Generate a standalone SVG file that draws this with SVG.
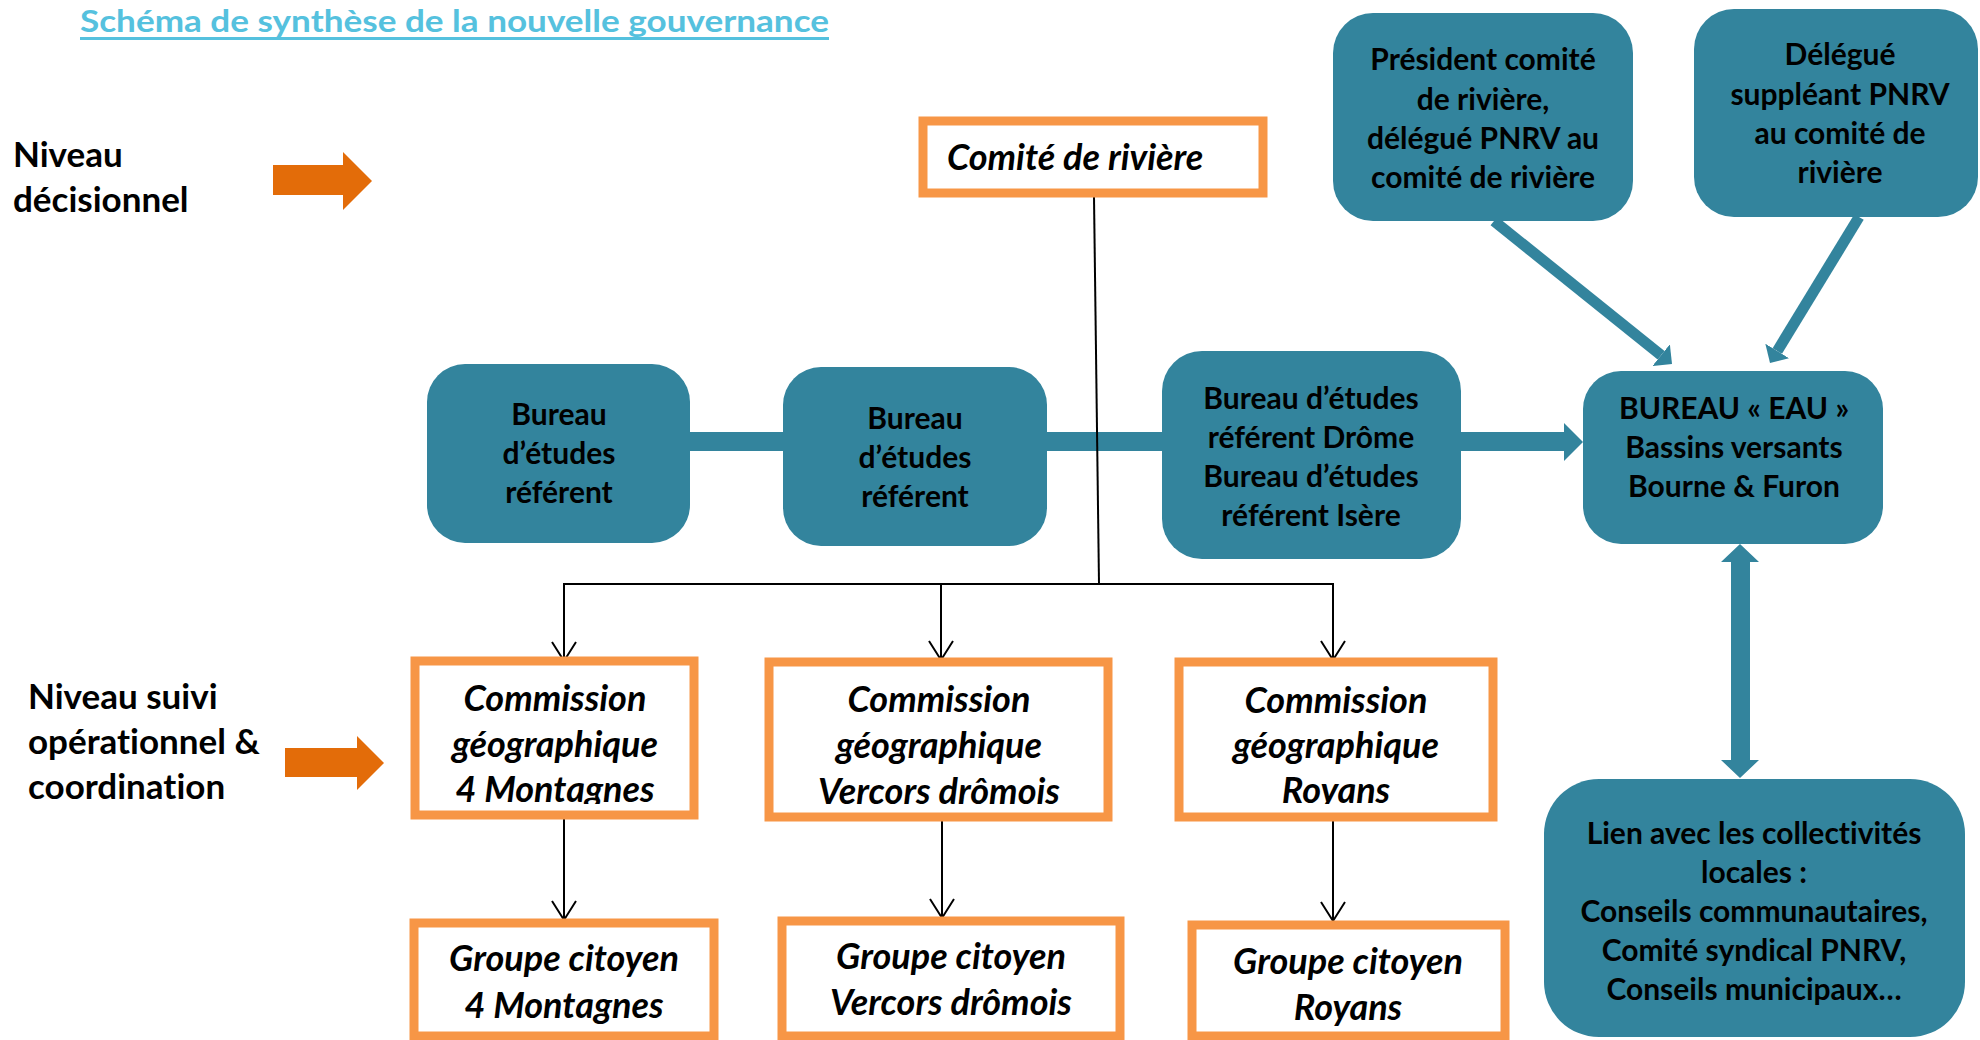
<svg xmlns="http://www.w3.org/2000/svg" width="1980" height="1040" viewBox="0 0 1980 1040">
<style>
text{font-variant-ligatures:none}
.tb{fill:#33849D}
.ob{fill:#FFFFFF;stroke:#F79646;stroke-width:9}
.t{font-family:Lato,"Open Sans","Liberation Sans",sans-serif;font-weight:700;font-size:30px;fill:#000;text-anchor:middle}
.i{font-family:Lato,"Open Sans","Liberation Sans",sans-serif;font-weight:700;font-style:italic;font-size:36px;fill:#000;text-anchor:middle}
.l{font-family:Lato,"Open Sans","Liberation Sans",sans-serif;font-weight:700;font-size:35px;fill:#000}
.thin{stroke:#000;stroke-width:2;fill:none}
.oa{fill:#E36C09}
</style>
<defs>
<marker id="v" markerUnits="userSpaceOnUse" markerWidth="22" markerHeight="26" viewBox="0 0 22 26" refX="20" refY="13" orient="auto">
<path d="M1,1 L20,13 L1,25" fill="none" stroke="#000" stroke-width="2"/>
</marker>
<marker id="tk" markerUnits="userSpaceOnUse" markerWidth="14" markerHeight="28" viewBox="0 0 14 28" refX="0" refY="14" orient="auto">
<path d="M0,0 L14,14 L0,28 z" fill="#33849D"/>
</marker>
<clipPath id="cl1"><rect x="420" y="760" width="270" height="44"/></clipPath>
<clipPath id="cl3"><rect x="1183" y="760" width="306" height="44"/></clipPath>
</defs>

<g id="title">
<text x="80" y="32" style="font-family:Lato,'Open Sans','Liberation Sans',sans-serif;font-weight:700;font-size:31px;fill:#55C1DE" textLength="749" lengthAdjust="spacingAndGlyphs">Schéma de synthèse de la nouvelle gouvernance</text>
<rect x="80" y="37" width="749" height="3" fill="#55C1DE"/>
</g>

<g id="niveau-decisionnel">
<text class="l" x="13" y="167">Niveau</text>
<text class="l" x="13" y="212">décisionnel</text>
<polygon class="oa" points="273,165 343,165 343,152 372,181 343,210 343,195 273,195"/>
</g>

<g id="niveau-suivi">
<text class="l" x="28" y="709">Niveau suivi</text>
<text class="l" x="28" y="754">opérationnel &amp;</text>
<text class="l" x="28" y="799">coordination</text>
<polygon class="oa" points="285,748 357,748 357,736 384,763 357,790 357,777 285,777"/>
</g>

<g id="connectors">
<rect x="690" y="432" width="93" height="19" fill="#33849D"/>
<rect x="1047" y="432" width="115" height="19" fill="#33849D"/>
<polygon class="tb" points="1461,432 1564,432 1564,423 1583,442 1564,461 1564,451 1461,451"/>
<line x1="1494" y1="221" x2="1661.1" y2="355.2" stroke="#33849D" stroke-width="11" marker-end="url(#tk)"/>
<line x1="1859" y1="217" x2="1777.3" y2="351" stroke="#33849D" stroke-width="11" marker-end="url(#tk)"/>
<polygon class="tb" points="1740,544 1759,562 1750,562 1750,760 1759,760 1740,778 1721,760 1731,760 1731,562 1721,562"/>
<line class="thin" x1="1094" y1="197" x2="1099" y2="584"/>
<line class="thin" x1="563" y1="584" x2="1334" y2="584"/>
<line class="thin" x1="564" y1="584" x2="564" y2="661" marker-end="url(#v)"/>
<line class="thin" x1="941" y1="584" x2="941" y2="660" marker-end="url(#v)"/>
<line class="thin" x1="1333" y1="584" x2="1333" y2="660" marker-end="url(#v)"/>
<line class="thin" x1="564" y1="819" x2="564" y2="920" marker-end="url(#v)"/>
<line class="thin" x1="942" y1="821" x2="942" y2="918" marker-end="url(#v)"/>
<line class="thin" x1="1333" y1="821" x2="1333" y2="921" marker-end="url(#v)"/>
</g>

<g id="comite">
<rect class="ob" x="923" y="121" width="340" height="72"/>
<text class="i" x="947" y="170" style="text-anchor:start">Comité de rivière</text>
</g>

<g id="president">
<rect class="tb" x="1333" y="13" width="300" height="208" rx="40"/>
<text class="t" x="1483" y="70">Président comité</text>
<text class="t" x="1483" y="110">de rivière,</text>
<text class="t" x="1483" y="149">délégué PNRV au</text>
<text class="t" x="1483" y="188">comité de rivière</text>
</g>

<g id="delegue">
<rect class="tb" x="1694" y="9" width="284" height="208" rx="40"/>
<text class="t" x="1840" y="65">Délégué</text>
<text class="t" x="1840" y="105">suppléant PNRV</text>
<text class="t" x="1840" y="144">au comité de</text>
<text class="t" x="1840" y="183">rivière</text>
</g>

<g id="bureau1">
<rect class="tb" x="427" y="364" width="263" height="179" rx="38"/>
<text class="t" x="559" y="425">Bureau</text>
<text class="t" x="559" y="464">d’études</text>
<text class="t" x="559" y="503">référent</text>
</g>

<g id="bureau2">
<rect class="tb" x="783" y="367" width="264" height="179" rx="38"/>
<text class="t" x="915" y="429">Bureau</text>
<text class="t" x="915" y="468">d’études</text>
<text class="t" x="915" y="507">référent</text>
</g>

<g id="bureau3">
<rect class="tb" x="1162" y="351" width="299" height="208" rx="40"/>
<text class="t" x="1311" y="409">Bureau d’études</text>
<text class="t" x="1311" y="448">référent Drôme</text>
<text class="t" x="1311" y="487">Bureau d’études</text>
<text class="t" x="1311" y="526">référent Isère</text>
</g>

<g id="bureau-eau">
<rect class="tb" x="1583" y="371" width="300" height="173" rx="38"/>
<text class="t" x="1734" y="419">BUREAU « EAU »</text>
<text class="t" x="1734" y="458">Bassins versants</text>
<text class="t" x="1734" y="497">Bourne &amp; Furon</text>
</g>

<g id="lien">
<rect class="tb" x="1544" y="779" width="421" height="258" rx="55"/>
<text class="t" x="1754" y="844">Lien avec les collectivités</text>
<text class="t" x="1754" y="883">locales :</text>
<text class="t" x="1754" y="922">Conseils communautaires,</text>
<text class="t" x="1754" y="961">Comité syndical PNRV,</text>
<text class="t" x="1754" y="1000">Conseils municipaux…</text>
</g>

<g id="commission1">
<rect class="ob" x="415" y="661" width="279" height="154"/>
<text class="i" x="555" y="711">Commission</text>
<text class="i" x="555" y="757">géographique</text>
<text class="i" x="555" y="802" clip-path="url(#cl1)">4 Montagnes</text>
</g>

<g id="commission2">
<rect class="ob" x="769" y="662" width="339" height="155"/>
<text class="i" x="939" y="712">Commission</text>
<text class="i" x="939" y="758">géographique</text>
<text class="i" x="939" y="804">Vercors drômois</text>
</g>

<g id="commission3">
<rect class="ob" x="1179" y="662" width="314" height="155"/>
<text class="i" x="1336" y="713">Commission</text>
<text class="i" x="1336" y="758">géographique</text>
<text class="i" x="1336" y="803" clip-path="url(#cl3)">Royans</text>
</g>

<g id="groupe1">
<rect class="ob" x="414" y="923" width="300" height="113"/>
<text class="i" x="564" y="971">Groupe citoyen</text>
<text class="i" x="564" y="1018">4 Montagnes</text>
</g>

<g id="groupe2">
<rect class="ob" x="782" y="921" width="338" height="115"/>
<text class="i" x="951" y="969">Groupe citoyen</text>
<text class="i" x="951" y="1015">Vercors drômois</text>
</g>

<g id="groupe3">
<rect class="ob" x="1192" y="925" width="313" height="111"/>
<text class="i" x="1348" y="974">Groupe citoyen</text>
<text class="i" x="1348" y="1020">Royans</text>
</g>
</svg>
